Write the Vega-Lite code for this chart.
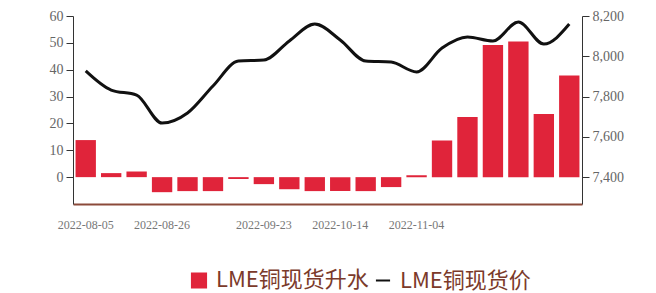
{
  "$schema": "https://vega.github.io/schema/vega-lite/v6.json",
  "width": 509,
  "height": 188,
  "padding": {"left": 33, "top": 9, "right": 24, "bottom": 2},
  "background": "white",
  "config": {"view": {"stroke": null}, "font": "Liberation Serif"},
  "data": {
    "values": [
      {"date": "2022-08-05", "premium": 13.8, "price": 7927},
      {"date": "2022-08-12", "premium": 1.5, "price": 7832},
      {"date": "2022-08-19", "premium": 2.1, "price": 7807},
      {"date": "2022-08-26", "premium": -5.6, "price": 7668},
      {"date": "2022-09-02", "premium": -5.2, "price": 7718},
      {"date": "2022-09-09", "premium": -5.2, "price": 7852},
      {"date": "2022-09-16", "premium": -0.7, "price": 7976},
      {"date": "2022-09-23", "premium": -2.6, "price": 7981},
      {"date": "2022-09-30", "premium": -4.5, "price": 8076},
      {"date": "2022-10-07", "premium": -5.2, "price": 8160},
      {"date": "2022-10-14", "premium": -5.2, "price": 8081},
      {"date": "2022-10-21", "premium": -5.2, "price": 7976},
      {"date": "2022-10-28", "premium": -3.7, "price": 7971},
      {"date": "2022-11-04", "premium": 0.7, "price": 7922},
      {"date": "2022-11-11", "premium": 13.6, "price": 8041},
      {"date": "2022-11-18", "premium": 22.4, "price": 8096},
      {"date": "2022-11-25", "premium": 49.2, "price": 8076},
      {"date": "2022-12-02", "premium": 50.5, "price": 8170},
      {"date": "2022-12-09", "premium": 23.5, "price": 8061},
      {"date": "2022-12-16", "premium": 37.8, "price": 8160}
    ]
  },
  "encoding": {
    "x": {
      "field": "date",
      "type": "ordinal",
      "sort": null,
      "scale": {"paddingInner": 0.2, "paddingOuter": 0.1},
      "axis": {
        "title": null,
        "values": ["2022-08-05", "2022-08-26", "2022-09-23", "2022-10-14", "2022-11-04"],
        "labelAngle": 0,
        "ticks": false,
        "labelPadding": 15,
        "labelFontSize": 12,
        "labelColor": "#777777",
        "domainColor": "#8B4A3A",
        "domainWidth": 2
      }
    }
  },
  "layer": [
    {
      "mark": {"type": "bar"},
      "encoding": {
        "y": {
          "field": "premium",
          "type": "quantitative",
          "scale": {"domain": [-10, 60], "nice": false},
          "axis": {
            "title": null,
            "values": [0, 10, 20, 30, 40, 50, 60],
            "grid": false,
            "domainColor": "#333333",
            "tickColor": "#333333",
            "tickSize": 7,
            "labelPadding": 3,
            "labelColor": "#666666",
            "labelFontSize": 14,
            "minExtent": 40,
            "maxExtent": 40
          }
        },
        "color": {
          "datum": "LME铜现货升水",
          "type": "nominal",
          "scale": {"domain": ["LME铜现货升水", "LME铜现货价"], "range": ["#E0243A", "#111111"]},
          "legend": {
            "title": null,
            "orient": "none",
            "legendX": 115,
            "legendY": 253,
            "direction": "horizontal",
            "labelFont": "Noto Sans CJK SC",
            "labelFontSize": 22,
            "labelColor": "#7B3A2A",
            "symbolSize": 200,
            "columnPadding": 2,
            "labelOffset": 6,
            "encode": {
              "symbols": {
                "update": {
                  "shape": {"signal": "datum.value === 'LME铜现货价' ? 'stroke' : 'square'"},
                  "strokeWidth": {"value": 2},
                  "opacity": {"value": 1}
                }
              }
            }
          }
        }
      }
    },
    {
      "mark": {"type": "line", "interpolate": "monotone", "strokeWidth": 3},
      "encoding": {
        "y": {
          "field": "price",
          "type": "quantitative",
          "scale": {"domain": [7266, 8200], "nice": false, "zero": false},
          "axis": {
            "title": null,
            "orient": "right",
            "values": [7400, 7600, 7800, 8000, 8200],
            "format": ",.0f",
            "grid": false,
            "domainColor": "#333333",
            "tickColor": "#333333",
            "tickSize": 7,
            "labelPadding": 3,
            "labelColor": "#666666",
            "labelFontSize": 14,
            "minExtent": 50,
            "maxExtent": 50
          }
        },
        "color": {"datum": "LME铜现货价", "type": "nominal"}
      }
    }
  ],
  "resolve": {"scale": {"y": "independent"}}
}
